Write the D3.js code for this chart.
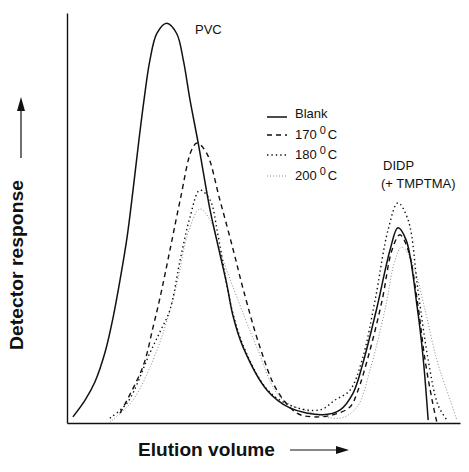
<!DOCTYPE html>
<html>
<head>
<meta charset="utf-8">
<script src="https://cdn.jsdelivr.net/npm/d3@7"></script>
<style>
  body { margin: 0; background: #fff; }
  text { font-family: "Liberation Sans", Arial, sans-serif; fill: #111; }
</style>
</head>
<body>
<div id="chart"></div>
<script>
// elution volume (arbitrary units 0-100) and detector response (0-100)
const blankX = [1.5, 4.6, 7.1, 9.7, 11.7, 13.5, 15.3, 16.8, 18.3, 19.6, 21.1, 22.9, 25.4, 27.9, 29.6, 31.3, 33.4, 36.4, 38.1, 40.6, 42.3, 44.8, 50.9, 56.7, 65.1, 69.5, 72.8, 75.3, 78.9, 82.2, 84.2, 86.3, 89.1, 90.6, 91.9]
const blankY = [1.5, 5.6, 10.0, 17.3, 25.6, 34.9, 45.4, 56.8, 69.0, 78.8, 88.5, 95.1, 97.5, 95.0, 88.5, 78.8, 68.2, 52.0, 44.6, 34.1, 25.9, 18.5, 8.0, 3.7, 2.0, 3.2, 7.3, 14.6, 28.3, 42.2, 47.6, 44.6, 28.3, 16.1, 0.7]

const t170X = [13.5, 19.3, 21.9, 23.7, 26.2, 28.8, 31.7, 33.1, 35.5, 38.9, 42.3, 44.9, 49.1, 53.4, 58.5, 62.6, 67.7, 72.0, 73.8, 77.1, 80.2, 82.7, 84.7, 86.8, 89.1, 91.1, 92.9, 94.1]
const t170Y = [2.4, 13.7, 23.4, 30.7, 42.2, 54.4, 66.6, 68.3, 65.9, 54.4, 42.2, 32.4, 18.5, 8.0, 2.4, 1.5, 2.0, 3.9, 7.3, 17.8, 30.0, 42.2, 45.9, 42.2, 30.0, 15.4, 5.6, 0.2]

const t180X = [10.9, 15.3, 21.1, 23.8, 26.2, 28.8, 31.3, 33.8, 36.4, 38.4, 42.0, 45.3, 51.1, 57.3, 64.4, 68.2, 72.0, 75.1, 78.4, 81.7, 84.2, 86.8, 89.3, 91.9, 94.4, 96.7]
const t180Y = [1.2, 4.9, 17.1, 22.5, 27.6, 39.8, 50.2, 56.8, 54.4, 45.9, 27.6, 17.8, 8.0, 4.1, 3.2, 5.6, 8.0, 15.4, 30.0, 47.1, 53.7, 49.5, 32.4, 15.4, 4.4, 0.7]

const t200X = [10.9, 16.8, 22.9, 26.2, 28.0, 30.8, 33.8, 36.4, 39.7, 44.8, 48.3, 54.2, 61.8, 69.5, 73.8, 77.1, 80.9, 83.5, 85.2, 87.8, 91.1, 94.1, 97.5, 99.2]
const t200Y = [0.2, 5.6, 17.8, 27.6, 34.1, 46.3, 52.2, 49.5, 39.8, 26.8, 18.5, 6.3, 2.7, 1.2, 3.9, 12.9, 27.6, 39.8, 42.9, 39.3, 27.6, 15.4, 5.6, 0.7]

const legendLabels = ['Blank', '170', '180', '200']

const width = 469,
  height = 472

const svg = d3.select('#chart')
  .append('svg')
  .attr('width', width)
  .attr('height', height)

const x = d3.scaleLinear().domain([0, 100]).range([67, 460])
const y = d3.scaleLinear().domain([0, 100]).range([423, 13])

const series = [
  { xs: blankX, ys: blankY, stroke: '#111', w: 1.5, dash: null },
  { xs: t170X, ys: t170Y, stroke: '#111', w: 1.4, dash: '5,4' },
  { xs: t180X, ys: t180Y, stroke: '#111', w: 1.4, dash: '1.4,3' },
  { xs: t200X, ys: t200Y, stroke: '#8a8a8a', w: 1, dash: '1,2' }
]

const line = d3.line()
  .x(d => x(d[0]))
  .y(d => y(Math.max(0, d[1])))
  .curve(d3.curveCatmullRom.alpha(0.5))

// draw the curves, light one first
series.slice().reverse().forEach(s => {
  svg.append('path')
    .datum(s.xs.map((v, i) => [v, s.ys[i]]))
    .attr('d', line)
    .attr('fill', 'none')
    .attr('stroke', s.stroke)
    .attr('stroke-width', s.w)
    .attr('stroke-dasharray', s.dash)
})

// axes, no ticks
svg.append('g')
  .attr('transform', 'translate(0,' + y(0) + ')')
  .call(d3.axisBottom(x).tickValues([]).tickSizeOuter(0))
  .select('.domain').attr('stroke', '#111').attr('stroke-width', 1.6)

svg.append('g')
  .attr('transform', 'translate(' + x(0) + ',0)')
  .call(d3.axisLeft(y).tickValues([]).tickSizeOuter(0))
  .select('.domain').attr('stroke', '#111').attr('stroke-width', 1.4)

// peak labels
svg.append('text').attr('x', 195).attr('y', 34).style('font-size', '13px').text('PVC')
svg.append('text').attr('x', 383).attr('y', 170).style('font-size', '13px').text('DIDP')
svg.append('text').attr('x', 381).attr('y', 188).style('font-size', '13px').text('(+ TMPTMA)')

// legend
const legY = [118, 139, 159, 180]
legendLabels.forEach((lab, i) => {
  const s = series[i]
  svg.append('line')
    .attr('x1', 267).attr('x2', 287)
    .attr('y1', legY[i] - (i === 0 ? 1 : 4)).attr('y2', legY[i] - (i === 0 ? 1 : 4))
    .attr('stroke', s.stroke)
    .attr('stroke-width', s.w)
    .attr('stroke-dasharray', s.dash)
  const t = svg.append('text')
    .attr('x', 295).attr('y', legY[i])
    .style('font-size', '13px')
  t.append('tspan').text(lab)
  if (i > 0) {
    t.append('tspan').attr('dx', 3).attr('dy', -5).style('font-size', '11px').text('0')
    t.append('tspan').attr('dx', 2).attr('dy', 5).text('C')
  }
})

// axis titles with arrows
svg.append('text')
  .attr('x', 138).attr('y', 456)
  .attr('textLength', 137)
  .attr('lengthAdjust', 'spacingAndGlyphs')
  .style('font-size', '18px').style('font-weight', 'bold')
  .text('Elution volume')

svg.append('line')
  .attr('x1', 290).attr('x2', 340).attr('y1', 450).attr('y2', 450)
  .attr('stroke', '#111').attr('stroke-width', 1.2)
svg.append('path')
  .attr('d', 'M336,446 L349,450 L336,454 Z')
  .attr('fill', '#111')

svg.append('text')
  .attr('transform', 'translate(23,265) rotate(-90)')
  .attr('text-anchor', 'middle')
  .attr('textLength', 170)
  .attr('lengthAdjust', 'spacingAndGlyphs')
  .style('font-size', '18px').style('font-weight', 'bold')
  .text('Detector response')

svg.append('line')
  .attr('x1', 21).attr('x2', 21).attr('y1', 158).attr('y2', 108)
  .attr('stroke', '#111').attr('stroke-width', 1.2)
svg.append('path')
  .attr('d', 'M17,111 L21,97 L25,111 Z')
  .attr('fill', '#111')
</script>
</body>
</html>
